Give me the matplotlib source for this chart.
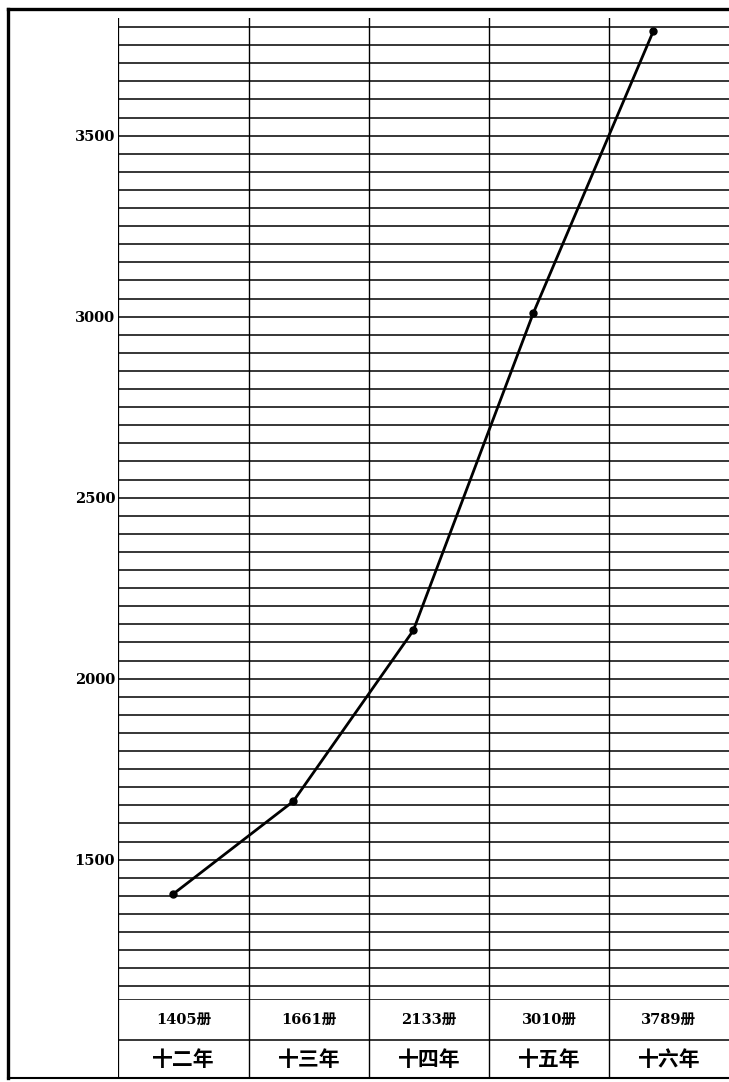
import matplotlib
matplotlib.use("Agg")
import matplotlib.pyplot as plt
import numpy as np
from matplotlib.lines import Line2D

# ---- data ----
years = ["十二年", "十三年", "十四年", "十五年", "十六年"]
volumes = [1405, 1661, 2133, 3010, 3789]
volume_labels = ["1405册", "1661册", "2133册", "3010册", "3789册"]
ytick_values = [1500, 2000, 2500, 3000, 3500]

W, H = 729, 1082
fig = plt.figure(figsize=(W / 100, H / 100), dpi=100)
fig.patch.set_facecolor("white")

def fx(px):
    return px / W

def fy(py):
    return 1 - py / H

left_px, right_px = 118, 729
top_px, chart_bottom_px, table_bottom_px = 18, 999, 1077

# main chart axes
ax = fig.add_axes([fx(left_px), fy(chart_bottom_px), fx(right_px - left_px),
                   (chart_bottom_px - top_px) / H])
xmin, xmax = -0.09, len(years)
ax.set_xlim(xmin, xmax)
ax.set_ylim(1115, 3825)
for s in ax.spines.values():
    s.set_visible(False)

# horizontal ruling every 50
for v in np.arange(1150, 3801, 50):
    ax.axhline(v, color="black", lw=1.1, zorder=1)
# column separators
for i in range(1, len(years)):
    ax.axvline(i, color="black", lw=1.0, zorder=1)
ax.axvline(xmin, color="black", lw=0.9, zorder=1)

xs = np.arange(len(volumes)) + 0.37
ax.plot(xs, volumes, color="black", lw=2.0, zorder=3,
        marker="o", markersize=5, solid_capstyle="round")

ax.set_xticks([])
ax.set_yticks(ytick_values)
ax.set_yticklabels([str(v) for v in ytick_values], fontsize=10.5,
                   family="DejaVu Serif", fontweight="bold")
ax.tick_params(axis="y", length=0, pad=2)

# table axes
tax = fig.add_axes([fx(left_px), fy(table_bottom_px), fx(right_px - left_px),
                    (table_bottom_px - chart_bottom_px) / H])
tax.set_xlim(xmin, xmax)
tax.set_ylim(0, table_bottom_px - chart_bottom_px)
tax.invert_yaxis()
for s in tax.spines.values():
    s.set_visible(False)
tax.set_xticks([])
tax.set_yticks([])
for i in range(1, len(years)):
    tax.axvline(i, color="black", lw=1.0)
tax.axvline(xmin, color="black", lw=0.9)
tax.axhline(0, color="black", lw=1.1)
tax.axhline(41, color="black", lw=1.1)

edges = [xmin] + list(range(1, len(years) + 1))
for i in range(len(years)):
    cx = (edges[i] + edges[i + 1]) / 2
    tax.text(cx, 21, volume_labels[i], ha="center", va="center", fontsize=10.5,
             fontweight="bold", family=["DejaVu Serif", "Noto Sans CJK SC"])
    tax.text(cx, 60, years[i], ha="center", va="center", fontsize=15,
             fontweight="bold", family=["Noto Sans CJK SC"])

# outer frame
fig.add_artist(Line2D([fx(8), fx(8)], [fy(9), fy(1078)], color="black", lw=2.4,
                      transform=fig.transFigure))
fig.add_artist(Line2D([fx(8), fx(729)], [fy(9), fy(9)], color="black", lw=2.4,
                      transform=fig.transFigure))
fig.add_artist(Line2D([fx(8), fx(729)], [fy(1078), fy(1078)], color="black", lw=1.5,
                      transform=fig.transFigure))

fig.savefig("out.png", dpi=100, facecolor="white")
